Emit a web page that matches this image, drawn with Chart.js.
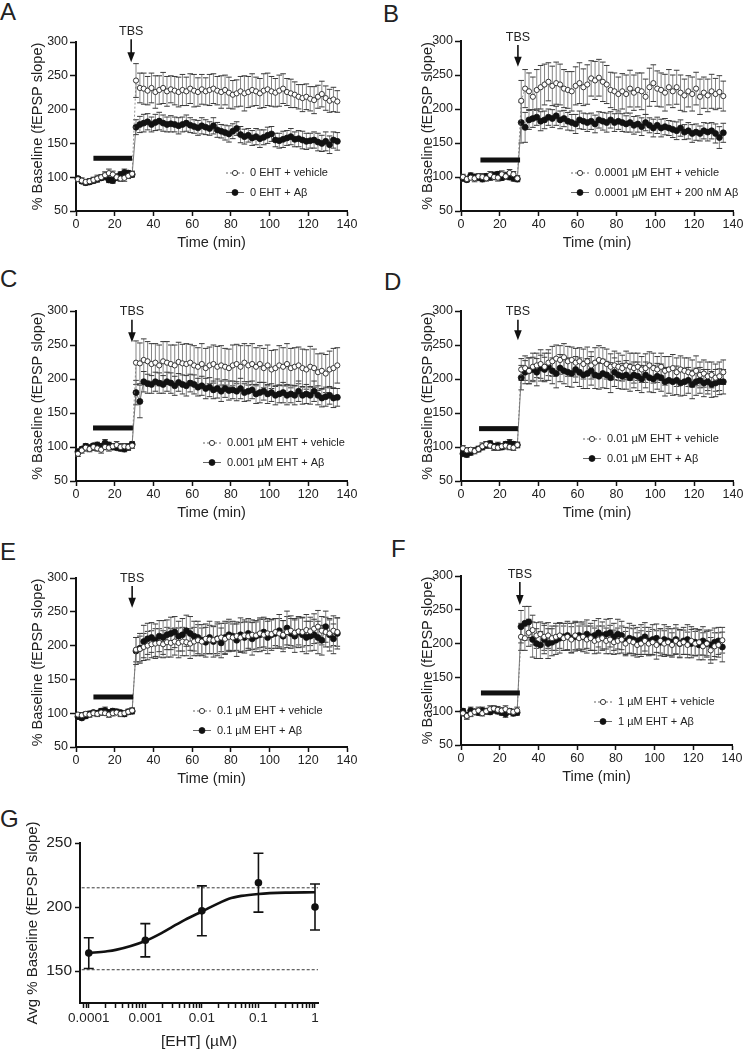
<!DOCTYPE html>
<html lang="en">
<head>
  <meta charset="UTF-8">
  <title>EHT dose response - LTP</title>
  <script src="https://cdn.jsdelivr.net/npm/chart.js"></script>
  <style>
    body { margin: 0; background: #fff; width: 746px; height: 1049px; position: relative; overflow: hidden;
           font-family: "Liberation Sans", Arial, sans-serif; }
    canvas { position: absolute; }
    .tag { position: absolute; font-size: 24px; line-height: 1; color: #222; }
  </style>
</head>
<body>
  <div class="tag" style="left:0px;top:0px">A</div>
  <div class="tag" style="left:383px;top:2px">B</div>
  <div class="tag" style="left:0px;top:267px">C</div>
  <div class="tag" style="left:384px;top:270px">D</div>
  <div class="tag" style="left:0px;top:540px">E</div>
  <div class="tag" style="left:391px;top:537px">F</div>
  <div class="tag" style="left:0px;top:807px">G</div>

  <canvas id="cA"></canvas>
  <canvas id="cB"></canvas>
  <canvas id="cC"></canvas>
  <canvas id="cD"></canvas>
  <canvas id="cE"></canvas>
  <canvas id="cF"></canvas>
  <canvas id="cG"></canvas>

  <script>
    // time (min) of each sample, TBS given at 30 min
    const times = [1,3,5,7,9,11,13,15,17,19,21,23,25,27,29,31,33,35,37,39,41,43,45,47,49,51,53,55,57,59,61,63,65,67,69,71,73,75,77,79,81,83,85,87,89,91,93,95,97,99,101,103,105,107,109,111,113,115,117,119,121,123,125,127,129,131,133,135];

    // panel A: 0 EHT
    const aVeh = [97,95,93,94,96,98,100,103,106,104,100,98,99,102,105, 243,232,231,228,232,226,229,232,227,230,228,226,229,227,231,228,226,230,227,229,231,228,226,229,225,222,224,227,224,226,229,227,224,228,230,227,225,228,231,226,224,222,219,217,219,216,214,219,223,217,213,215,212];
    const aAb = [98,94,92,93,95,97,99,101,96,95,100,104,107,106,104, 174,178,180,182,178,181,183,180,178,179,178,176,178,180,177,175,173,176,174,172,176,170,168,166,164,168,172,163,160,162,158,160,157,159,162,164,155,154,156,158,160,156,157,155,153,154,155,152,150,153,148,155,153];
    const aVehErr = [3,4,3,4,4,5,4,5,6,5,4,4,5,4,4, 25,22,23,21,22,24,21,23,22,20,21,22,23,21,22,24,21,22,20,23,22,21,24,22,23,21,20,22,26,23,24,21,22,25,24,22,21,23,22,20,21,19,18,20,19,18,20,17,19,18,17,18,16];
    const aAbErr = [3,3,4,3,4,4,3,5,4,4,5,4,5,4,4, 11,12,13,12,11,12,13,12,11,12,11,12,11,12,11,10,11,12,11,10,12,11,10,11,12,11,10,12,11,10,11,12,13,11,12,11,10,11,12,11,12,11,12,13,12,11,12,13,12,14,13,12,13];

    // panel B: 0.0001 uM EHT
    const bVeh = [100,97,99,98,101,100,98,103,100,99,104,101,106,104,98, 212,230,226,218,228,232,236,240,234,238,236,230,228,226,234,238,232,236,245,242,246,240,236,228,226,222,226,222,230,224,228,226,218,232,238,230,228,224,232,226,232,224,220,226,222,230,218,224,220,226,222,225,219];
    const bAb = [98,96,102,100,99,97,101,100,103,104,99,102,100,98,97, 180,173,184,186,188,182,184,188,186,190,184,186,182,180,178,184,182,180,182,178,184,182,180,184,180,182,180,178,180,176,178,174,180,176,172,176,172,174,172,170,168,172,166,168,164,166,164,168,166,168,164,158,165];
    const bVehErr = [4,4,3,5,4,5,4,5,4,5,5,4,5,4,4, 30,28,27,29,30,32,30,28,29,31,30,28,27,29,28,30,27,29,26,28,27,29,28,26,27,25,26,28,27,26,25,27,26,28,27,26,25,27,26,24,25,26,24,23,25,24,26,23,24,25,23,24,22];
    const bAbErr = [4,3,4,4,3,4,4,5,4,4,4,5,4,4,4, 30,22,14,13,12,14,13,12,13,14,13,12,13,12,14,13,12,13,12,13,12,13,14,12,13,12,13,12,14,13,12,13,12,11,13,12,13,12,11,12,13,12,11,12,13,12,11,12,13,12,14,16,14];

    // panel C: 0.001 uM EHT
    const cVeh = [90,95,99,97,100,98,96,100,99,101,103,100,101,100,102, 224,223,228,226,222,224,220,226,224,222,220,225,223,222,224,220,218,222,216,220,222,218,220,218,216,220,222,218,224,220,222,218,222,216,220,214,216,220,218,222,216,218,220,216,214,218,216,210,212,208,214,216,220];
    const cAb = [93,97,101,99,102,103,101,106,103,100,99,98,97,100,104, 180,167,196,193,192,196,194,192,196,194,190,195,192,190,194,192,188,190,186,188,184,186,182,186,183,184,182,186,180,182,184,178,180,182,178,180,176,178,180,176,178,176,182,176,178,176,182,176,172,174,176,172,173];
    const cVehErr = [4,4,5,4,5,4,5,4,5,4,5,5,4,5,4, 32,30,31,29,30,28,30,29,31,28,30,29,28,30,27,29,28,30,29,27,28,30,29,27,28,30,29,31,28,29,30,28,27,29,30,28,27,29,28,30,29,28,27,28,29,30,28,27,26,28,27,29,26];
    const cAbErr = [4,3,4,4,3,4,4,5,4,4,3,4,4,4,4, 18,24,15,14,13,14,15,13,14,15,14,13,14,15,13,14,13,14,15,14,13,14,15,13,14,13,14,15,13,14,13,14,15,13,14,13,14,13,15,14,13,14,15,13,14,13,15,14,13,14,13,14,13];

    // panel D: 0.01 uM EHT
    const dVeh = [98,95,96,94,97,101,104,102,100,99,101,102,100,99,103, 214,216,212,218,220,222,218,224,226,230,228,232,226,228,224,226,222,226,220,224,228,226,222,218,220,218,216,220,218,216,218,214,216,220,216,214,218,212,214,216,210,214,212,210,208,212,206,208,204,206,202,204,210];
    const dAb = [90,89,92,95,97,100,103,105,101,102,100,104,106,104,103, 202,210,212,214,210,216,214,218,212,208,216,212,210,208,214,210,206,208,212,206,204,208,206,202,210,206,204,206,202,206,204,200,206,202,200,204,202,196,198,196,198,194,196,198,192,196,198,194,196,192,194,196,196];
    const dVehErr = [4,4,3,4,4,5,4,4,5,4,4,5,4,4,4, 16,18,19,20,18,21,20,19,22,20,21,20,22,19,21,20,22,21,20,22,21,20,22,19,21,20,19,21,20,22,20,19,21,20,22,19,20,21,19,20,21,20,19,21,20,22,19,20,21,19,20,21,18];
    const dAbErr = [3,4,4,3,4,4,5,4,4,5,4,4,5,4,4, 18,17,19,18,20,19,18,20,19,21,20,19,21,20,19,21,20,22,21,20,19,21,20,22,21,20,19,21,20,19,21,20,19,21,20,19,20,21,19,20,21,19,20,19,21,20,19,20,18,19,20,19,18];

    // panel E: 0.1 uM EHT
    const eVeh = [98,97,99,98,100,99,101,100,98,100,101,99,100,102,104, 194,195,198,200,202,203,204,202,205,204,206,204,206,205,203,206,208,206,210,209,208,210,212,210,213,212,214,212,215,214,216,215,218,216,218,217,220,218,216,220,222,219,221,220,223,221,225,228,222,220,218,222,220];
    const eAb = [95,93,96,99,101,100,103,104,101,103,102,101,99,102,103, 192,196,206,210,212,208,214,212,216,218,220,214,216,222,218,214,212,208,205,212,206,210,204,212,216,214,208,216,212,218,210,214,216,220,212,216,218,222,214,226,218,214,220,216,212,214,216,212,208,228,216,210,218];
    const eVehErr = [3,4,3,4,3,4,4,3,4,4,3,4,4,3,4, 18,19,20,21,20,22,21,20,22,21,20,22,21,20,22,21,23,20,22,21,20,22,21,23,22,20,21,22,23,21,22,20,21,23,22,21,20,22,21,23,22,21,20,22,23,21,22,24,21,22,20,22,21];
    const eAbErr = [4,3,4,4,3,4,4,5,4,4,4,3,4,4,4, 20,22,24,23,22,24,23,25,22,24,23,22,24,23,25,22,24,23,22,24,23,25,22,24,23,22,24,25,23,22,24,23,25,22,24,23,22,24,23,25,22,24,23,25,24,22,23,24,22,23,24,22,23];

    // panel F: 1 uM EHT
    const fVeh = [97,93,96,99,101,97,100,103,104,102,101,103,100,99,101, 210,208,216,220,212,214,210,212,208,210,212,208,210,206,212,208,210,206,208,204,206,208,204,206,202,204,206,200,204,202,198,200,204,200,202,198,204,200,202,198,204,200,202,198,204,200,202,196,200,190,196,198,205];
    const fAb = [100,94,101,99,98,101,100,99,102,100,98,96,100,97,98, 225,230,232,206,200,198,206,200,202,205,208,210,212,208,210,212,210,214,210,212,216,212,214,216,210,214,212,204,208,206,204,206,210,204,206,208,202,206,204,202,206,200,204,206,200,202,198,204,200,198,202,204,195];
    const fVehErr = [4,5,4,4,5,4,4,5,4,5,4,5,4,4,5, 20,18,20,22,19,18,20,19,18,20,19,18,20,19,21,18,19,20,18,19,20,18,19,21,18,19,20,18,19,20,18,19,20,18,19,21,18,19,20,18,19,20,18,19,21,18,19,20,18,19,20,18,19];
    const fAbErr = [4,4,5,4,4,5,4,4,5,4,4,5,4,4,4, 24,25,23,26,22,20,21,22,20,21,22,20,21,22,21,20,22,21,20,22,21,20,22,21,20,22,21,20,22,21,20,22,21,20,22,21,20,22,21,20,22,21,20,22,21,20,22,21,20,22,21,20,22];

    const timeTicks = [0, 20, 40, 60, 80, 100, 120, 140];
    const pctTicks = [50, 100, 150, 200, 250, 300];

    // panel G: average potentiation vs EHT concentration
    const gConc = [0.0001, 0.001, 0.01, 0.1, 1];
    const gMean = [164, 174, 197, 219, 200];
    const gErr = [12, 13, 19.5, 23, 18];
    const gFitX = [0.0001, 0.0002, 0.0003, 0.001, 0.002, 0.003, 0.005, 0.01, 0.02, 0.03, 0.05, 0.1, 0.3, 1];
    const gFitY = [164, 165.3, 166.5, 173.5, 180, 184.5, 190, 196.5, 203, 206.5, 208.7, 210.2, 211.2, 211.5];
    const gRefLines = [215, 151];
    const gXTickVals = [0.0001, 0.001, 0.01, 0.1, 1];
    const gXTickLabels = ['0.0001', '0.001', '0.01', '0.1', '1'];
    const gYTicks = [150, 200, 250];

    Chart.defaults.font.family = '"Liberation Sans", Arial, sans-serif';
    Chart.defaults.color = '#222';

    const FONT = '"Liberation Sans", Arial, sans-serif';

    const marks = {
      id: 'marks',
      beforeDatasetsDraw(chart) {
        const { ctx, scales: { x, y } } = chart;
        chart.data.datasets.forEach(ds => {
          if (!ds.err) return;
          ctx.save();
          ctx.lineWidth = ds.errWidth;
          ds.data.forEach((p, i) => {
            const px = x.getPixelForValue(p.x);
            const top = y.getPixelForValue(p.y + ds.err[i]);
            const bot = y.getPixelForValue(p.y - ds.err[i]);
            ctx.strokeStyle = ds.errColor;
            ctx.beginPath(); ctx.moveTo(px, top); ctx.lineTo(px, bot); ctx.stroke();
            ctx.strokeStyle = ds.capColor;
            ctx.beginPath();
            ctx.moveTo(px - ds.capHalf, top); ctx.lineTo(px + ds.capHalf, top);
            ctx.moveTo(px - ds.capHalf, bot); ctx.lineTo(px + ds.capHalf, bot);
            ctx.stroke();
          });
          ctx.restore();
        });
      },
      afterDraw(chart, args, opts) {
        if (!opts.bar) return;
        const { ctx, chartArea: area, scales: { x, y } } = chart;
        ctx.save();
        // drug application bar
        ctx.fillStyle = '#111';
        const bx0 = x.getPixelForValue(opts.bar[0]), bx1 = x.getPixelForValue(opts.bar[1]);
        ctx.fillRect(bx0, y.getPixelForValue(opts.bar[2]) - 2.5, bx1 - bx0, 5);
        // TBS arrow
        const ax = x.getPixelForValue(opts.arrow[0]);
        const at = y.getPixelForValue(opts.arrow[1]), ab = y.getPixelForValue(opts.arrow[2]);
        ctx.strokeStyle = '#111'; ctx.lineWidth = 1.6;
        ctx.beginPath(); ctx.moveTo(ax, at); ctx.lineTo(ax, ab - 8); ctx.stroke();
        ctx.beginPath(); ctx.moveTo(ax - 3.8, ab - 10); ctx.lineTo(ax + 3.8, ab - 10); ctx.lineTo(ax, ab); ctx.closePath(); ctx.fill();
        ctx.font = '12.5px ' + FONT; ctx.textAlign = 'center'; ctx.textBaseline = 'middle';
        ctx.fillStyle = '#222';
        ctx.fillText('TBS', ax, at - 8);
        // legend inside plot
        const lx = area.left + opts.legend[0], ly0 = area.top + opts.legend[1];
        chart.data.datasets.forEach((ds, i) => {
          const ly = ly0 + i * 19.5;
          ctx.strokeStyle = '#555'; ctx.lineWidth = 0.9; ctx.setLineDash(ds.borderDash || []);
          ctx.beginPath(); ctx.moveTo(lx - 24, ly); ctx.lineTo(lx - 6, ly); ctx.stroke();
          ctx.setLineDash([]);
          ctx.beginPath(); ctx.arc(lx - 15, ly, ds.pointRadius, 0, Math.PI * 2);
          ctx.fillStyle = ds.pointBackgroundColor; ctx.fill();
          ctx.strokeStyle = ds.pointBorderColor; ctx.lineWidth = ds.pointBorderWidth; ctx.stroke();
          ctx.fillStyle = '#222'; ctx.font = '11px ' + FONT;
          ctx.textAlign = 'left'; ctx.textBaseline = 'middle';
          ctx.fillText(ds.label, lx, ly);
        });
        ctx.restore();
      }
    };

    const panels = [
      { id: 'cA', box: [76, 42, 347, 211], gap: 38, veh: aVeh, ab: aAb, vehErr: aVehErr, abErr: aAbErr,
        names: ['0 EHT + vehicle', '0 EHT + Aβ'], bar: [9, 29, 128], arrow: [28.5, 304, 270], legend: [174, 131] },
      { id: 'cB', box: [461, 41, 733, 211], gap: 33, veh: bVeh, ab: bAb, vehErr: bVehErr, abErr: bAbErr,
        names: ['0.0001 µM EHT + vehicle', '0.0001 µM EHT + 200 nM Aβ'], bar: [10, 30.4, 125], arrow: [29.3, 294, 262], legend: [134, 132] },
      { id: 'cC', box: [76, 311, 347, 481], gap: 38, veh: cVeh, ab: cAb, vehErr: cVehErr, abErr: cAbErr,
        names: ['0.001 µM EHT + vehicle', '0.001 µM EHT + Aβ'], bar: [8.8, 29.4, 128], arrow: [28.9, 287, 254], legend: [151, 132] },
      { id: 'cD', box: [461, 311, 733, 481], gap: 33, veh: dVeh, ab: dAb, vehErr: dVehErr, abErr: dAbErr,
        names: ['0.01 µM EHT + vehicle', '0.01 µM EHT + Aβ'], bar: [9.3, 29.3, 127], arrow: [29.3, 287, 257], legend: [146, 128] },
      { id: 'cE', box: [76, 578, 347, 747], gap: 38, veh: eVeh, ab: eAb, vehErr: eVehErr, abErr: eAbErr,
        names: ['0.1 µM EHT + vehicle', '0.1 µM EHT + Aβ'], bar: [9, 29.5, 124], arrow: [29, 288, 256], legend: [141, 133] },
      { id: 'cF', box: [461, 576, 732, 745], gap: 33, veh: fVeh, ab: fAb, vehErr: fVehErr, abErr: fAbErr,
        names: ['1 µM EHT + vehicle', '1 µM EHT + Aβ'], bar: [10.3, 30.4, 127], arrow: [30.4, 291, 257], legend: [157, 126] }
    ];

    function timePanel(p) {
      const cv = document.getElementById(p.id);
      const [L, T, R, B] = p.box;
      cv.width = R - L + 96;
      cv.height = B - T + 85;
      cv.style.left = (L - 76) + 'px';
      cv.style.top = (T - 42) + 'px';
      new Chart(cv, {
        type: 'line',
        data: {
          datasets: [
            { label: p.names[0], data: times.map((t, i) => ({ x: t, y: p.veh[i] })), err: p.vehErr,
              borderColor: '#777', borderWidth: 0.8, borderDash: [2, 2], pointRadius: 2.6,
              pointBackgroundColor: '#fff', pointBorderColor: '#222', pointBorderWidth: 0.9,
              errColor: '#858585', capColor: '#3a3a3a', errWidth: 1, capHalf: 2.8, clip: false },
            { label: p.names[1], data: times.map((t, i) => ({ x: t, y: p.ab[i] })), err: p.abErr,
              borderColor: '#555', borderWidth: 0.8, pointRadius: 3,
              pointBackgroundColor: '#111', pointBorderColor: '#111', pointBorderWidth: 0.8,
              errColor: '#858585', capColor: '#3a3a3a', errWidth: 1, capHalf: 2.8, clip: false }
          ]
        },
        options: {
          responsive: false, animation: false, events: [],
          layout: { padding: { left: 0, top: 42, right: 20, bottom: 0 } },
          plugins: {
            legend: { display: false }, tooltip: { enabled: false },
            marks: { bar: p.bar, arrow: p.arrow, legend: p.legend }
          },
          scales: {
            x: {
              type: 'linear', min: 0, max: 140,
              afterFit: s => { s.height = 43; },
              afterBuildTicks: s => { s.ticks = timeTicks.map(v => ({ value: v })); },
              ticks: { color: '#222', font: { size: 12.5 }, padding: 1, maxRotation: 0, autoSkip: false },
              grid: { drawOnChartArea: false, tickLength: 5, tickWidth: 1.5, tickColor: '#111' },
              border: { color: '#111', width: 2 },
              title: { display: true, text: 'Time (min)', color: '#222', font: { size: 14.5 }, padding: { top: 0, bottom: 2 } }
            },
            y: {
              min: 50, max: 300,
              afterFit: s => { s.width = 76; },
              afterBuildTicks: s => { s.ticks = pctTicks.map(v => ({ value: v })); },
              ticks: { color: '#222', font: { size: 12.5 }, padding: 2 },
              grid: { drawOnChartArea: false, tickLength: 6, tickWidth: 1.5, tickColor: '#111' },
              border: { color: '#111', width: 2 },
              title: { display: true, text: '% Baseline (fEPSP slope)', color: '#222', font: { size: 14.5 },
                       padding: { top: 76 - p.gap - 8.7, bottom: 0 } }
            }
          }
        },
        plugins: [marks]
      });
    }

    panels.forEach(timePanel);

    // panel G
    const gXMin = 7.5e-5, gXMax = 1.13;
    const gMinor = [];
    for (let k = -5; k <= 0; k++) {
      for (let m = 1; m <= 9; m++) {
        const v = m * Math.pow(10, k);
        if (v >= gXMin && v <= gXMax) gMinor.push({ value: v, major: m === 1 });
      }
    }

    const cG = document.getElementById('cG');
    cG.width = 340; cG.height = 242;
    cG.style.left = '0px'; cG.style.top = '810px';
    new Chart(cG, {
      type: 'line',
      data: {
        datasets: [
          { label: 'mean', data: gConc.map((c, i) => ({ x: c, y: gMean[i] })), err: gErr, showLine: false,
            pointRadius: 3.8, pointBackgroundColor: '#111', pointBorderColor: '#111', pointBorderWidth: 0,
            errColor: '#111', capColor: '#111', errWidth: 1.6, capHalf: 5, clip: false },
          { label: 'fit', data: gFitX.map((c, i) => ({ x: c, y: gFitY[i] })), borderColor: '#111', borderWidth: 2.6,
            pointRadius: 0, cubicInterpolationMode: 'monotone', clip: false },
          { label: 'ref hi', data: [{ x: gXMin, y: gRefLines[0] }, { x: gXMax, y: gRefLines[0] }],
            borderColor: '#222', borderWidth: 0.9, borderDash: [3, 2], pointRadius: 0 },
          { label: 'ref lo', data: [{ x: gXMin, y: gRefLines[1] }, { x: gXMax, y: gRefLines[1] }],
            borderColor: '#222', borderWidth: 0.9, borderDash: [3, 2], pointRadius: 0 }
        ]
      },
      options: {
        responsive: false, animation: false, events: [],
        layout: { padding: { left: 0, top: 33, right: 22, bottom: 0 } },
        plugins: { legend: { display: false }, tooltip: { enabled: false } },
        scales: {
          x: {
            type: 'logarithmic', min: gXMin, max: gXMax,
            afterFit: s => { s.height = 49; },
            afterBuildTicks: s => { s.ticks = gMinor.map(t => ({ value: t.value, major: t.major })); },
            ticks: {
              autoSkip: false, maxRotation: 0, color: '#222', font: { size: 13.5 }, padding: 2,
              callback: (v, i, ts) => {
                if (!ts[i].major) return '';
                const k = gXTickVals.findIndex(g => Math.abs(Math.log10(g) - Math.log10(v)) < 1e-6);
                return k < 0 ? '' : gXTickLabels[k];
              }
            },
            grid: { drawOnChartArea: false, tickLength: 5, tickWidth: 1.5, tickColor: '#111' },
            border: { color: '#111', width: 2 },
            title: { display: true, text: '[EHT] (µM)', color: '#222', font: { size: 15.5 }, padding: { top: 0, bottom: 1 } }
          },
          y: {
            min: 125, max: 250,
            afterFit: s => { s.width = 80; },
            afterBuildTicks: s => { s.ticks = gYTicks.map(v => ({ value: v })); },
            ticks: { color: '#222', font: { size: 15.5 }, padding: 3 },
            grid: { drawOnChartArea: false, tickLength: 5, tickWidth: 1.5, tickColor: '#111' },
            border: { color: '#111', width: 2 },
            title: { display: true, text: 'Avg % Baseline (fEPSP slope)', color: '#222', font: { size: 15 },
                     padding: { top: 24, bottom: 0 } }
          }
        }
      },
      plugins: [marks]
    });
  </script>
</body>
</html>
